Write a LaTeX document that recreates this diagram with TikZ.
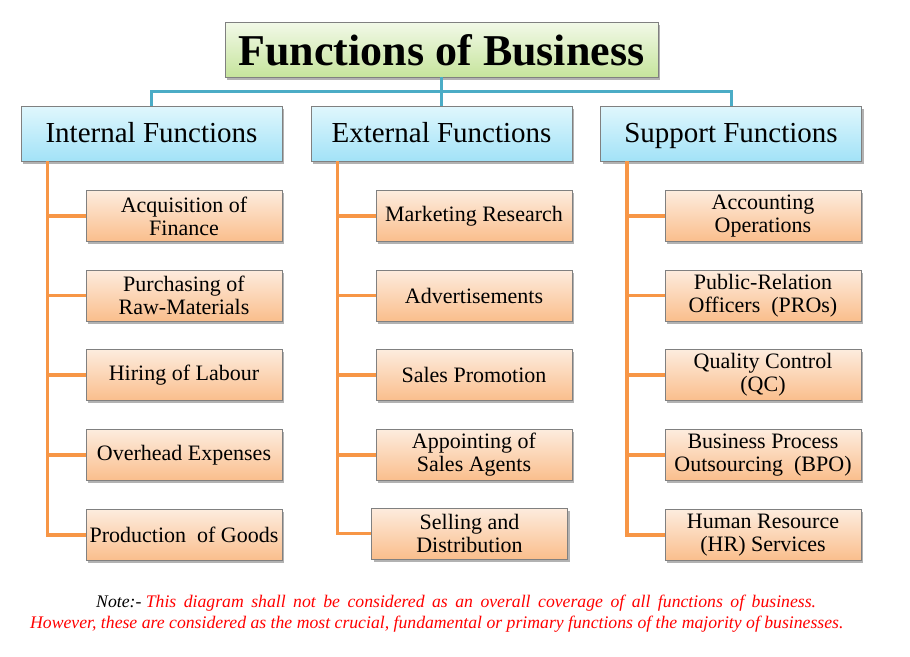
\documentclass[tikz,border=0pt]{standalone}
\usepackage{fontspec}
\setmainfont{Liberation Serif}
\definecolor{busblue}{RGB}{75,172,198}
\definecolor{branchorange}{RGB}{247,150,70}
\definecolor{boxgray}{RGB}{128,128,128}
\definecolor{titletop}{RGB}{242,249,232}
\definecolor{titlebottom}{RGB}{198,228,156}
\definecolor{headtop}{RGB}{224,247,253}
\definecolor{headbottom}{RGB}{162,226,247}
\definecolor{itemtop}{RGB}{253,236,222}
\definecolor{itembottom}{RGB}{250,190,140}
\definecolor{notered}{RGB}{255,0,0}
\usetikzlibrary{shadows,positioning}
\tikzset{
  card/.style={rectangle,draw=boxgray,line width=0.8pt,align=center,
               inner sep=0pt,
               drop shadow={shadow xshift=2pt,shadow yshift=-2.5pt,
                            opacity=0.3,fill=black}},
  titlebox/.style={card,top color=titletop,bottom color=titlebottom,
                   minimum width=433pt,minimum height=55pt,
                   text height=31pt,text depth=0pt,
                   font=\fontsize{44}{50}\selectfont\bfseries},
  headbox/.style={card,top color=headtop,bottom color=headbottom,
                  minimum width=261pt,minimum height=55pt,
                  text height=20pt,text depth=3pt,
                  font=\fontsize{29}{32}\selectfont},
  itembox/.style={card,top color=itemtop,bottom color=itembottom,
                  minimum width=196pt,minimum height=51pt,
                  font=\fontsize{22}{23}\selectfont},
  bus/.style={line width=3pt,busblue},
  branch/.style={line width=3.5pt,branchorange},
  notetext/.style={anchor=base west,inner sep=0pt,
                   font=\fontsize{17.7}{20}\selectfont\itshape},
}
\begin{document}
\begin{tikzpicture}[x=1pt,y=1pt]
  \useasboundingbox (0,0) rectangle (910,-656);
  \node[titlebox] (title) at (441.5,-49.5) {Functions of Business};
  \node[headbox] (internal) at (151.5,-133.5) {Internal Functions};
  \node[headbox] (external) at (441.5,-133.5) {External Functions};
  \node[headbox] (support) at (731,-133.5) {Support Functions};

  \node[itembox] (in1) at (184,-216) {Acquisition of\\Finance};
  \node[itembox] (in2) at (184,-295.5) {Purchasing of\\Raw-Materials};
  \node[itembox] (in3) at (184,-375) {Hiring of Labour};
  \node[itembox] (in4) at (184,-455) {Overhead Expenses};
  \node[itembox] (in5) at (184,-535) {Production~~of Goods};

  \node[itembox] (ex1) at (474,-216) {Marketing Research};
  \node[itembox] (ex2) at (474,-295.5) {Advertisements};
  \node[itembox] (ex3) at (474,-375) {Sales Promotion};
  \node[itembox] (ex4) at (474,-455) {Appointing of\\Sales Agents};
  \node[itembox] (ex5) at (469.5,-533.5) {Selling and\\Distribution};

  \node[itembox] (su1) at (763,-216) {Accounting\\Operations};
  \node[itembox] (su2) at (763,-295.5) {Public-Relation\\Officers~~(PROs)};
  \node[itembox] (su3) at (763,-375) {Quality Control\\(QC)};
  \node[itembox] (su4) at (763,-455) {Business Process\\Outsourcing~~(BPO)};
  \node[itembox] (su5) at (763,-535) {Human Resource\\(HR) Services};

  \draw[bus] (title.south) -- (external.north);
  \draw[bus] (internal.north) -- ++(0,14) -| (support.north);

  \foreach \n in {in1,in2,in3,in4,in5}
    \draw[branch] ([xshift=27pt]internal.south west) |- (\n.west);
  \foreach \n in {ex1,ex2,ex3,ex4,ex5}
    \draw[branch] ([xshift=27pt]external.south west) |- (\n.west);
  \foreach \n in {su1,su2,su3,su4,su5}
    \draw[branch] ([xshift=27pt]support.south west) |- (\n.west);

  \node[notetext] (note1) at (96,-607)
    {Note:-\ \spaceskip=7.5pt plus 1pt\textcolor{notered}{This diagram shall not be considered as an overall coverage of all functions of business.}};
  \node[notetext,text=notered] (note2) at (30,-628)
    {However, these are considered as the most crucial, fundamental or primary functions of the majority of businesses.};
\end{tikzpicture}
\end{document}
